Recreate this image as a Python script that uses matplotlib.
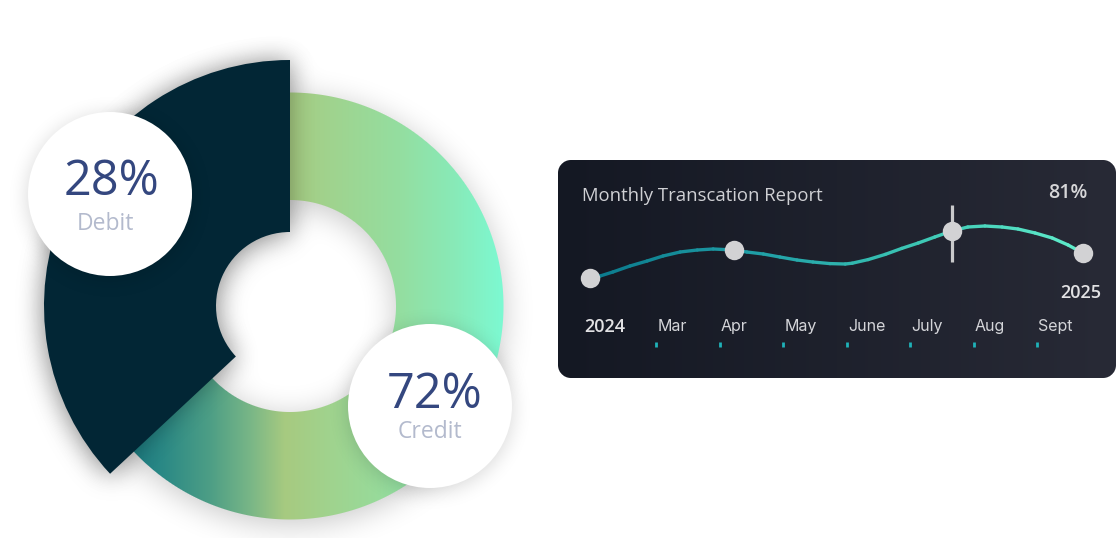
import numpy as np
import matplotlib
matplotlib.use("Agg")
import matplotlib.pyplot as plt
from matplotlib.patches import Wedge, Circle
from matplotlib.collections import LineCollection
from matplotlib.colors import LinearSegmentedColormap, to_rgb

W, H = 1117, 538

# donut: labels and the arc each segment takes in the picture (degrees)
seg_names = ["Debit", "Credit"]
seg_share = [28, 72]
seg_arc = [133, 227]

# line card
months = ["Mar", "Apr", "May", "June", "July", "Aug", "Sept"]
month_idx = [3, 4, 5, 6, 7, 8, 9]
curve_x = [1.96, 2.12, 2.32, 2.59, 2.86, 3.11, 3.38, 3.65, 3.90, 4.23, 4.43, 4.69, 4.95, 5.22, 5.47, 5.74,
           5.98, 6.09, 6.34, 6.61, 6.87, 7.13, 7.39, 7.66, 7.91, 8.18, 8.45, 8.70, 8.97, 9.24, 9.49, 9.72]
curve_y = [55, 56, 58, 61, 63.5, 66, 68, 69, 69.5, 69, 68, 67, 65.5, 64, 63, 62.2,
           62.0, 62.4, 64.2, 66.8, 69.8, 72.5, 75.5, 78.5, 80.5, 81, 80.5, 79.5, 77.5, 75, 71.5, 67.5]
dot_x = [1.96, 4.23, 7.66, 9.72]
dot_y = [55, 69, 78.5, 67.5]
focus_x = 7.66
focus_span = [63, 91.5]
peak_label = "81%"
year_start, year_end = "2024", "2025"

fig = plt.figure(figsize=(W / 100, H / 100), dpi=100)
bg = fig.add_axes([0, 0, 1, 1])
bg.set_xlim(0, W); bg.set_ylim(0, H); bg.axis("off")

xs = np.arange(W) + 0.5
ys = np.arange(H) + 0.5
X, Y = np.meshgrid(xs, ys)


def blur(a, r, n=3):
    for _ in range(n):
        c = np.cumsum(np.pad(a, ((0, 0), (r + 1, r)), mode="edge"), axis=1)
        a = (c[:, 2 * r + 1:] - c[:, :-2 * r - 1]) / (2 * r + 1)
        c = np.cumsum(np.pad(a, ((r + 1, r), (0, 0)), mode="edge"), axis=0)
        a = (c[2 * r + 1:, :] - c[:-2 * r - 1, :]) / (2 * r + 1)
    return a


def shade(a, alpha, z, dx=0, dy=0):
    img = np.zeros((H, W, 4))
    img[..., 3] = np.clip(a * alpha, 0, 1)
    bg.imshow(img, extent=(dx, W + dx, dy, H + dy), origin="lower", zorder=z, interpolation="bilinear")


cx, cy = 290, 232
R = np.hypot(X - cx, Y - cy)
TH = np.degrees(np.arctan2(Y - cy, X - cx)) % 360

t0 = 90
t_dark = (t0, t0 + seg_arc[0])
t_ring = (t0 + seg_arc[0], t0 + seg_arc[0] + seg_arc[1])
dark_in, dark_out = 74, 246
ring_in, ring_out = 106, 213.5

in_dark_ang = (TH >= t_dark[0]) & (TH <= t_dark[1])
dark_mask = (in_dark_ang & (R >= dark_in) & (R <= dark_out)).astype(float)
ring_ang = ((TH - t_ring[0]) % 360) <= (t_ring[1] - t_ring[0]) + 1
ring_aa = np.clip(R - ring_in + 0.5, 0, 1) * np.clip(ring_out - R + 0.5, 0, 1)
ring_mask = ring_aa * (ring_ang | in_dark_ang)

circ = [(110, 538 - 194), (430, 538 - 406)]
circ_r = 82
circ_mask = np.zeros((H, W))
for (px, py) in circ:
    circ_mask = np.maximum(circ_mask, (np.hypot(X - px, Y - py) <= circ_r).astype(float))

# soft halo below everything
shade(blur(np.maximum(dark_mask, ring_mask), 14), 0.22, 1, 0, -5)

# gradient ring
stops = [(110, "#12727e"), (165, "#2c8a86"), (210, "#4d9e85"), (250, "#78b687"), (285, "#a7ca80"),
         (330, "#a0d38e"), (400, "#94dea0"), (455, "#88eab8"), (505, "#7cfad3")]
sx = np.array([s[0] for s in stops], float)
sc = np.array([to_rgb(s[1]) for s in stops])
rgb = np.stack([np.interp(xs, sx, sc[:, k]) for k in range(3)], axis=-1)
ring_img = np.zeros((H, W, 4))
ring_img[..., :3] = rgb[None, :, :]
ring_img[..., 3] = ring_mask
bg.imshow(ring_img, extent=(0, W, 0, H), origin="lower", zorder=2, interpolation="bilinear")

# dark segment shadow falling on ring and hole
shade(blur(dark_mask, 11), 0.32, 3)

bg.add_patch(Wedge((cx, cy), dark_out, t_dark[0], t_dark[1], width=dark_out - dark_in,
                   facecolor="#022635", edgecolor="none", zorder=4))

shade(blur(circ_mask, 9), 0.16, 5, 0, -3)
for (px, py) in circ:
    bg.add_patch(Circle((px, py), circ_r, facecolor="white", edgecolor="none", zorder=6))

label_font = ["Open Sans", "DejaVu Sans"]
pct_xy = [(111, 538 - 195), (435, 538 - 408)]
name_xy = [(105, 538 - 230), (430, 538 - 438)]
for i in range(2):
    bg.text(*pct_xy[i], f"{seg_share[i]}%", fontsize=35, color="#34477f", ha="center", va="baseline",
            family=label_font, zorder=7)
    bg.text(*name_xy[i], seg_names[i], fontsize=16.5, color="#b3bacd", ha="center", va="baseline",
            family=label_font, zorder=7)

# card background (rounded, horizontal gradient)
x0, x1, y0, y1, rc = 558, 1116, 538 - 378, 538 - 160, 13
qx = np.abs(X - (x0 + x1) / 2) - ((x1 - x0) / 2 - rc)
qy = np.abs(Y - (y0 + y1) / 2) - ((y1 - y0) / 2 - rc)
dist = np.hypot(np.maximum(qx, 0), np.maximum(qy, 0)) + np.minimum(np.maximum(qx, qy), 0) - rc
card = np.zeros((H, W, 4))
c_left, c_right = np.array(to_rgb("#141823")), np.array(to_rgb("#282a36"))
tt = np.clip((xs - x0) / (x1 - x0), 0, 1)[None, :, None]
card[..., :3] = c_left * (1 - tt) + c_right * tt
card[..., 3] = np.clip(0.5 - dist, 0, 1)
bg.imshow(card, extent=(0, W, 0, H), origin="lower", zorder=8, interpolation="bilinear")


def m_of(px):
    return 3 + (px - 656) / 63.5


ax = fig.add_axes([x0 / W, y0 / H, (x1 - x0) / W, (y1 - y0) / H])
ax.set_xlim(m_of(x0), m_of(x1))
ax.set_ylim(5, 114)
ax.axis("off")
ax.patch.set_alpha(0)

cmap = LinearSegmentedColormap.from_list("teal", ["#0a788b", "#1f9ea6", "#3cc6b4", "#60edcb"])
pts = np.column_stack([curve_x, curve_y])
segs = np.stack([pts[:-1], pts[1:]], axis=1)
mid = (np.array(curve_x[:-1]) + np.array(curve_x[1:])) / 2
lc = LineCollection(segs, colors=cmap((mid - curve_x[0]) / (curve_x[-1] - curve_x[0])),
                    linewidths=2.4, capstyle="round", joinstyle="round", zorder=2)
ax.add_collection(lc)
ax.vlines(focus_x, focus_span[0], focus_span[1], color="#c9c9cb", linewidth=2.3, zorder=3)
ax.plot(dot_x, dot_y, "o", markersize=14, color="#d2d2d4", markeredgewidth=0, zorder=4)

ax.vlines(month_idx, 20.5, 23, color="#1fb2b8", linewidth=2.0, zorder=2)
for m, lab in zip(month_idx, months):
    ax.text(m + 0.02, 28.5, lab, fontsize=11.5, color="#d4d5d9", ha="left", va="baseline",
            family=["Inter", "DejaVu Sans"])

head_font = ["Open Sans", "DejaVu Sans"]
ax.text(m_of(582), 93.5, "Monthly Transcation Report", fontsize=13.3, color="#cfd0d4",
        ha="left", va="baseline", family=head_font, fontweight="medium")
ax.text(m_of(1087), 95, peak_label, fontsize=14, color="#d6d6d8", ha="right", va="baseline",
        family=head_font, fontweight="semibold")
ax.text(m_of(584), 28, year_start, fontsize=13, color="#e2e2e4", ha="left", va="baseline",
        family=head_font, fontweight="semibold")
ax.text(m_of(1101), 45, year_end, fontsize=13, color="#e2e2e4", ha="right", va="baseline",
        family=head_font, fontweight="semibold")

fig.savefig("out.png", dpi=100, facecolor="white")
